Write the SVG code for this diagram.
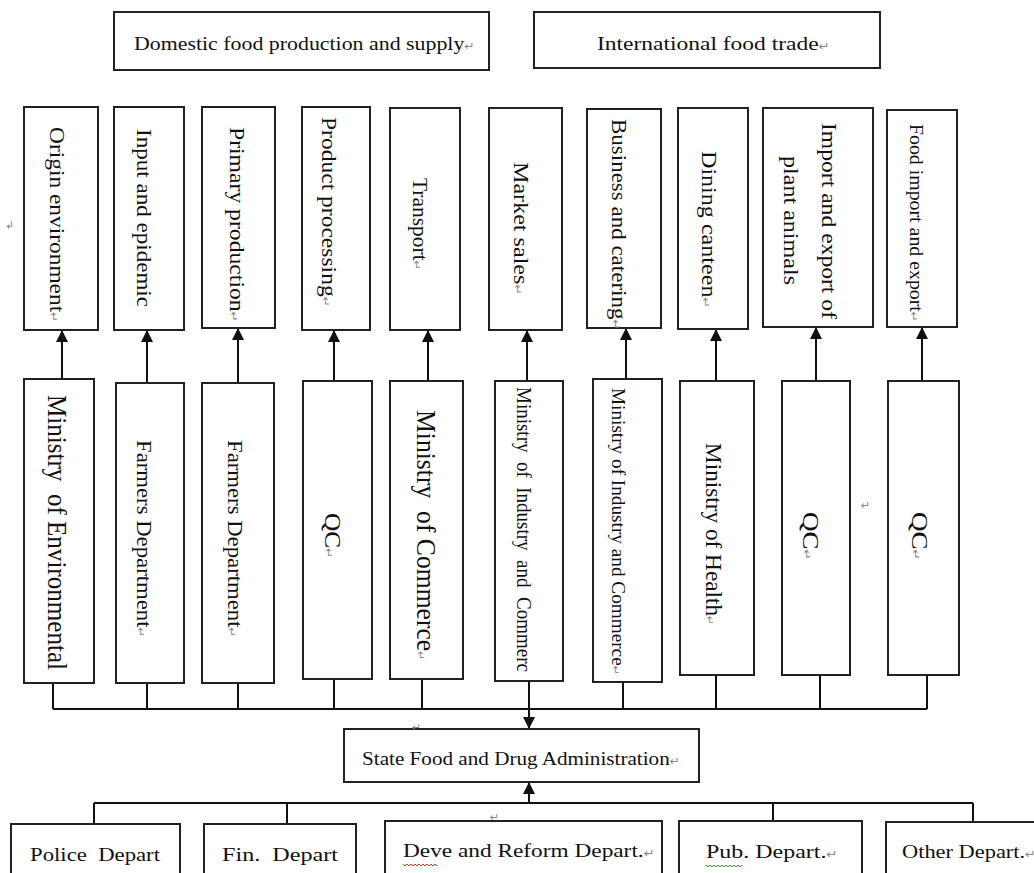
<svg xmlns="http://www.w3.org/2000/svg" width="1034" height="873" viewBox="0 0 1034 873">
<style>
.box{fill:#fff;stroke:#222;stroke-width:2}
.t{font-family:"Liberation Serif","Times New Roman",serif;fill:#111;white-space:pre}
.rm{font-family:"DejaVu Sans",sans-serif;fill:#888;font-size:11px}
.conn{stroke:#111;stroke-width:2;fill:none}
.sq{fill:none;stroke-width:1}
</style>
<defs>
<marker id="ah" markerUnits="userSpaceOnUse" markerWidth="12" markerHeight="12" refX="12" refY="6" orient="auto">
<path d="M0,0 L12,6 L0,12 z" fill="#111"/>
</marker>
</defs>
<rect width="1034" height="873" fill="#fff"/>

<g id="connectors">
<path class="conn" marker-end="url(#ah)" d="M62,379 V330"/>
<path class="conn" marker-end="url(#ah)" d="M147,383 V330"/>
<path class="conn" marker-end="url(#ah)" d="M238,383 V328"/>
<path class="conn" marker-end="url(#ah)" d="M334,381 V330"/>
<path class="conn" marker-end="url(#ah)" d="M428,381 V330"/>
<path class="conn" marker-end="url(#ah)" d="M527,381 V330"/>
<path class="conn" marker-end="url(#ah)" d="M626,379 V328"/>
<path class="conn" marker-end="url(#ah)" d="M716,381 V329"/>
<path class="conn" marker-end="url(#ah)" d="M816,381 V327"/>
<path class="conn" marker-end="url(#ah)" d="M922,381 V327"/>
<path class="conn" d="M53,683 V709 M147,683 V709 M238,683 V709 M334,679 V709 M422,679 V709 M529,681 V709 M623,682 V709 M716,675 V709 M820,675 V709 M927,675 V709 M53,709 H927"/>
<path class="conn" marker-end="url(#ah)" d="M529,709 V729"/>
<path class="conn" marker-end="url(#ah)" d="M529,803 V782"/>
<path class="conn" d="M94,803 H973 M94,803 V824 M287,803 V824 M773,803 V821 M973,803 V822"/>
</g>

<g id="n-domestic">
<rect class="box" x="114" y="12" width="375" height="58"/>
<text class="t" x="134" y="50" font-size="19" textLength="341" lengthAdjust="spacingAndGlyphs">Domestic food production and supply<tspan class="rm">↵</tspan></text>
</g>
<g id="n-international">
<rect class="box" x="534" y="12" width="346" height="56"/>
<text class="t" x="597" y="50" font-size="19" textLength="233" lengthAdjust="spacingAndGlyphs">International food trade<tspan class="rm">↵</tspan></text>
</g>

<g id="n-origin">
<rect class="box" x="24" y="107" width="74" height="223"/>
<text class="t" transform="translate(50,127) rotate(90)" font-size="22" textLength="195" lengthAdjust="spacingAndGlyphs">Origin environment<tspan class="rm">↵</tspan></text>
</g>
<g id="n-input">
<rect class="box" x="114" y="107" width="70" height="223"/>
<text class="t" transform="translate(137,129) rotate(90)" font-size="21" textLength="178" lengthAdjust="spacingAndGlyphs">Input and epidemic</text>
</g>
<g id="n-primary">
<rect class="box" x="202" y="107" width="73" height="221"/>
<text class="t" transform="translate(230,127) rotate(90)" font-size="21" textLength="195" lengthAdjust="spacingAndGlyphs">Primary production<tspan class="rm">↵</tspan></text>
</g>
<g id="n-processing">
<rect class="box" x="302" y="107" width="68" height="223"/>
<text class="t" transform="translate(322,117) rotate(90)" font-size="21" textLength="190" lengthAdjust="spacingAndGlyphs">Product processing<tspan class="rm">↵</tspan></text>
</g>
<g id="n-transport">
<rect class="box" x="390" y="108" width="70" height="222"/>
<text class="t" transform="translate(413,178) rotate(90)" font-size="21" textLength="92" lengthAdjust="spacingAndGlyphs">Transport<tspan class="rm">↵</tspan></text>
</g>
<g id="n-market">
<rect class="box" x="489" y="108" width="73" height="222"/>
<text class="t" transform="translate(514,162) rotate(90)" font-size="21" textLength="133" lengthAdjust="spacingAndGlyphs">Market sales<tspan class="rm">↵</tspan></text>
</g>
<g id="n-business">
<rect class="box" x="587" y="109" width="74" height="219"/>
<text class="t" transform="translate(612,119) rotate(90)" font-size="20" textLength="211" lengthAdjust="spacingAndGlyphs">Business and catering<tspan class="rm">↵</tspan></text>
</g>
<g id="n-dining">
<rect class="box" x="678" y="108" width="70" height="221"/>
<text class="t" transform="translate(702,151) rotate(90)" font-size="21" textLength="157" lengthAdjust="spacingAndGlyphs">Dining canteen<tspan class="rm">↵</tspan></text>
</g>
<g id="n-plantanimals">
<rect class="box" x="763" y="108" width="110" height="219"/>
<text class="t" transform="translate(822,123) rotate(90)" font-size="21" textLength="196" lengthAdjust="spacingAndGlyphs">Import and export of</text>
<text class="t" transform="translate(784,156) rotate(90)" font-size="21" textLength="129" lengthAdjust="spacingAndGlyphs">plant animals</text>
</g>
<g id="n-foodimport">
<rect class="box" x="887" y="110" width="70" height="217"/>
<text class="t" transform="translate(910,124) rotate(90)" font-size="18" textLength="198" lengthAdjust="spacingAndGlyphs">Food import and export<tspan class="rm">↵</tspan></text>
</g>

<g id="n-env">
<rect class="box" x="24" y="379" width="70" height="304"/>
<text class="t" transform="translate(48,395) rotate(90)" font-size="27" textLength="275" lengthAdjust="spacingAndGlyphs">Ministry  of Environmental</text>
</g>
<g id="n-farmers1">
<rect class="box" x="116" y="383" width="68" height="300"/>
<text class="t" transform="translate(137,440) rotate(90)" font-size="22" textLength="197" lengthAdjust="spacingAndGlyphs">Farmers Department<tspan class="rm">↵</tspan></text>
</g>
<g id="n-farmers2">
<rect class="box" x="202" y="383" width="72" height="300"/>
<text class="t" transform="translate(228,440) rotate(90)" font-size="22" textLength="197" lengthAdjust="spacingAndGlyphs">Farmers Department<tspan class="rm">↵</tspan></text>
</g>
<g id="n-qc1">
<rect class="box" x="303" y="381" width="69" height="298"/>
<text class="t" transform="translate(325,513) rotate(90)" font-size="24" textLength="45" lengthAdjust="spacingAndGlyphs">QC<tspan class="rm">↵</tspan></text>
</g>
<g id="n-commerce">
<rect class="box" x="390" y="381" width="73" height="298"/>
<text class="t" transform="translate(417,410) rotate(90)" font-size="27" textLength="250" lengthAdjust="spacingAndGlyphs">Ministry  of Commerce<tspan class="rm">↵</tspan></text>
</g>
<g id="n-industry1">
<rect class="box" x="495" y="381" width="68" height="300"/>
<text class="t" transform="translate(517,387) rotate(90)" font-size="20" textLength="285" lengthAdjust="spacingAndGlyphs">Ministry  of  Industry  and  Commerc</text>
</g>
<g id="n-industry2">
<rect class="box" x="593" y="379" width="69" height="303"/>
<text class="t" transform="translate(612,388) rotate(90)" font-size="19" textLength="287" lengthAdjust="spacingAndGlyphs">Ministry of Industry and Commerce<tspan class="rm">↵</tspan></text>
</g>
<g id="n-health">
<rect class="box" x="680" y="381" width="74" height="294"/>
<text class="t" transform="translate(706,443) rotate(90)" font-size="24" textLength="182" lengthAdjust="spacingAndGlyphs">Ministry of Health<tspan class="rm">↵</tspan></text>
</g>
<g id="n-qc2">
<rect class="box" x="782" y="381" width="68" height="294"/>
<text class="t" transform="translate(803,512) rotate(90)" font-size="24" textLength="48" lengthAdjust="spacingAndGlyphs">QC<tspan class="rm">↵</tspan></text>
</g>
<g id="n-qc3">
<rect class="box" x="888" y="381" width="71" height="294"/>
<text class="t" transform="translate(912,512) rotate(90)" font-size="24" textLength="48" lengthAdjust="spacingAndGlyphs">QC<tspan class="rm">↵</tspan></text>
</g>

<g id="n-sfda">
<rect class="box" x="344" y="729" width="355" height="53"/>
<text class="t" x="362" y="765" font-size="19" textLength="318" lengthAdjust="spacingAndGlyphs">State Food and Drug Administration<tspan class="rm">↵</tspan></text>
</g>

<g id="n-police">
<rect class="box" x="11" y="824" width="169" height="60"/>
<text class="t" x="30" y="861" font-size="19" textLength="130" lengthAdjust="spacingAndGlyphs">Police  Depart</text>
</g>
<g id="n-fin">
<rect class="box" x="204" y="824" width="152" height="60"/>
<text class="t" x="222" y="861" font-size="19" textLength="116" lengthAdjust="spacingAndGlyphs">Fin.  Depart</text>
</g>
<g id="n-deve">
<rect class="box" x="385" y="821" width="277" height="60"/>
<text class="t" x="403" y="857" font-size="19" textLength="252" lengthAdjust="spacingAndGlyphs">Deve and Reform Depart.<tspan class="rm">↵</tspan></text>
<path class="sq" stroke="#e03030" d="M403,864 l2,2 l2,-2 l2,2 l2,-2 l2,2 l2,-2 l2,2 l2,-2 l2,2 l2,-2 l2,2 l2,-2 l2,2 l2,-2 l2,2 l2,-2 l2,2"/>
</g>
<g id="n-pub">
<rect class="box" x="679" y="821" width="183" height="60"/>
<text class="t" x="706" y="858" font-size="19" textLength="132" lengthAdjust="spacingAndGlyphs">Pub. Depart.<tspan class="rm">↵</tspan></text>
<path class="sq" stroke="#30a030" d="M706,865 l2,2 l2,-2 l2,2 l2,-2 l2,2 l2,-2 l2,2 l2,-2 l2,2 l2,-2 l2,2 l2,-2 l2,2 l2,-2 l2,2 l2,-2 l2,2 l2,-2"/>
</g>
<g id="n-other">
<rect class="box" x="886" y="822" width="160" height="60"/>
<text class="t" x="902" y="858" font-size="19" textLength="134" lengthAdjust="spacingAndGlyphs">Other Depart.<tspan class="rm">↵</tspan></text>
</g>

<g id="marks">
<text class="rm" x="5" y="229">↲</text>
<text class="rm" x="861" y="509">↵</text>
<text class="rm" x="412" y="731">↵</text>
<text class="rm" x="490" y="821">↵</text>
</g>
</svg>
